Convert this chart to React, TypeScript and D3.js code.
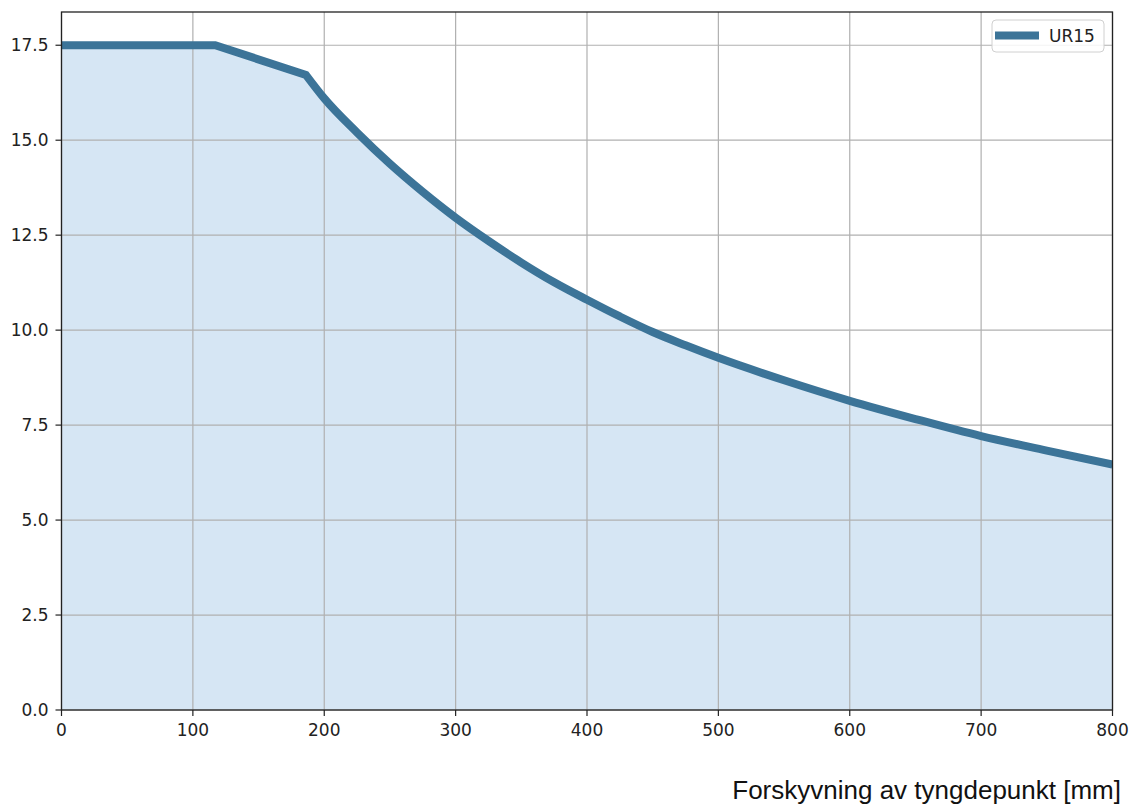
import React from "react";
import * as d3 from "d3";

const seriesName = "UR15";
const xValues = [0, 117, 186, 200, 225, 250, 275, 300, 325, 350, 375, 400, 425, 450, 475, 500, 550, 600, 650, 700, 750, 800];
const yValues = [17.5, 17.5, 16.72, 16.1, 15.2, 14.38, 13.64, 12.96, 12.35, 11.78, 11.26, 10.8, 10.36, 9.95, 9.6, 9.27, 8.68, 8.14, 7.66, 7.21, 6.83, 6.46];
const xTicks = [0, 100, 200, 300, 400, 500, 600, 700, 800];
const yTicks = [0, 2.5, 5, 7.5, 10, 12.5, 15, 17.5];
const xLabel = "Forskyvning av tyngdepunkt [mm]";

const W = 1139;
const H = 805;
const M = { left: 61.5, right: 1112.5, top: 12, bottom: 710 };

export default function App() {
  const x = d3.scaleLinear().domain([0, 800]).range([M.left, M.right]);
  const y = d3.scaleLinear().domain([0, 18.375]).range([M.bottom, M.top]);
  const pts = xValues.map((v, i) => [v, yValues[i]] as [number, number]);
  const straight = d3.line<[number, number]>().x((d) => x(d[0])).y((d) => y(d[1]));
  const smooth = d3
    .line<[number, number]>()
    .x((d) => x(d[0]))
    .y((d) => y(d[1]))
    .curve(d3.curveMonotoneX);
  const linePath =
    (straight(pts.slice(0, 3)) || "") + (smooth(pts.slice(2)) || "").replace(/^M/, "L");
  const areaPath =
    linePath + `L${x(xValues[xValues.length - 1])},${y(0)}L${x(xValues[0])},${y(0)}Z`;
  const fmt = d3.format(".1f");
  const font = "DejaVu Sans, sans-serif";
  const lineColor = "#3c7498";

  return (
    <svg
      width={W}
      height={H}
      style={{ position: "absolute", left: 0, top: 0, background: "#fff" }}
    >
      <defs>
        <clipPath id="plotclip">
          <rect x={M.left} y={M.top} width={M.right - M.left} height={M.bottom - M.top} />
        </clipPath>
      </defs>
      <path d={areaPath} fill="#d6e6f4" />
      {xTicks.map((t) => (
        <line key={"gx" + t} x1={x(t)} x2={x(t)} y1={M.top} y2={M.bottom} stroke="#b0b0b0" strokeWidth={1.2} />
      ))}
      {yTicks.map((t) => (
        <line key={"gy" + t} x1={M.left} x2={M.right} y1={y(t)} y2={y(t)} stroke="#b0b0b0" strokeWidth={1.2} />
      ))}
      <g clipPath="url(#plotclip)">
        <path d={linePath} fill="none" stroke={lineColor} strokeWidth={8} strokeLinejoin="miter" />
      </g>
      <rect
        x={M.left}
        y={M.top}
        width={M.right - M.left}
        height={M.bottom - M.top}
        fill="none"
        stroke="#222"
        strokeWidth={1.3}
      />
      {xTicks.map((t) => (
        <g key={"tx" + t}>
          <line x1={x(t)} x2={x(t)} y1={M.bottom} y2={M.bottom + 6} stroke="#222" strokeWidth={1.2} />
          <text x={x(t)} y={M.bottom + 26} textAnchor="middle" fontFamily={font} fontSize={17} fill="#222">
            {t}
          </text>
        </g>
      ))}
      {yTicks.map((t) => (
        <g key={"ty" + t}>
          <line x1={M.left - 6} x2={M.left} y1={y(t)} y2={y(t)} stroke="#222" strokeWidth={1.2} />
          <text
            x={M.left - 13}
            y={y(t)}
            dy="0.36em"
            textAnchor="end"
            fontFamily={font}
            fontSize={17}
            fill="#222"
          >
            {fmt(t)}
          </text>
        </g>
      ))}
      <g>
        <rect x={992} y={20} width={112} height={32} rx={4} fill="#fff" fillOpacity={0.85} stroke="#d0d0d0" strokeWidth={1} />
        <line x1={995} x2={1039} y1={35.5} y2={35.5} stroke={lineColor} strokeWidth={8} />
        <text x={1049} y={41.5} fontFamily={font} fontSize={17} fill="#222">
          {seriesName}
        </text>
      </g>
      <text
        x={1121}
        y={799}
        textAnchor="end"
        fontFamily="Liberation Sans, Arial, sans-serif"
        fontSize={26}
        fill="#111"
      >
        {xLabel}
      </text>
    </svg>
  );
}
